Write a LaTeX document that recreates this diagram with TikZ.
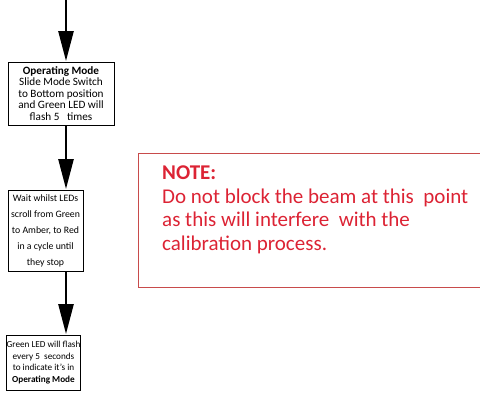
\documentclass[tikz,border=0pt]{standalone}
\usepackage{fontspec}
\setmainfont{Carlito}
\usetikzlibrary{arrows.meta}
\definecolor{notered}{RGB}{220,35,52}
\definecolor{noteborder}{RGB}{200,75,75}
\tikzset{
  stepbox/.style={draw=black, line width=0.9pt, align=center, inner sep=0pt},
  flow/.style={line width=2.6pt, -{Triangle[length=30pt,width=15pt]}, shorten >=0.5pt},
  notebox/.style={draw=noteborder, line width=1.1pt, minimum width=344pt, minimum height=134pt, anchor=north west, inner sep=0pt}
}
\begin{document}
\begin{tikzpicture}[x=1pt,y=-1pt]
\useasboundingbox (0,0) rectangle (480,393);
\coordinate (start) at (66,0);
\node[stepbox, minimum width=106pt, minimum height=63pt, font=\fontsize{11.2}{11.4}\selectfont] (b1) at (61,93.5) {\textbf{Operating Mode}\\Slide Mode Switch\\to Bottom position\\and Green LED will\\flash 5\ \ \ times};
\node[stepbox, minimum width=75pt, minimum height=81pt, font=\fontsize{9.8}{16}\selectfont] (b2) at (45.5,230.5) {Wait whilst LEDs\\scroll from Green\\to Amber, to Red\\in a cycle until\\they stop};
\node[stepbox, minimum width=73pt, minimum height=55pt, font=\fontsize{9.2}{11.7}\selectfont] (b3) at (43.5,362.5) {Green LED will flash\\every 5\ \ seconds\\to indicate it’s in\\\textbf{Operating Mode}};
\draw[flow] (start) -- (start |- b1.north);
\draw[flow] (start |- b1.south) -- (start |- b2.north);
\draw[flow] (start |- b2.south) -- (start |- b3.north);
\node[notebox] (note) at (138,153) {};
\node[anchor=north west, inner sep=0pt, align=left, text=notered, font=\fontsize{21}{23.5}\selectfont] (notetext) at ([xshift=24pt,yshift=-13pt]note.north west) {\textbf{NOTE:}\\Do not block the beam at this\ \ point\\as this will interfere\ \ with the\\calibration process.};
\end{tikzpicture}
\end{document}
